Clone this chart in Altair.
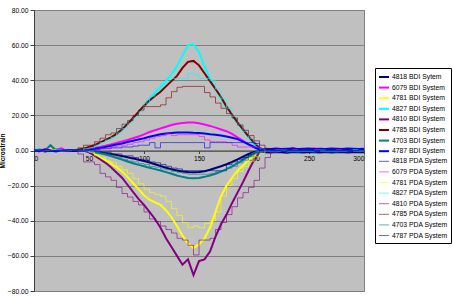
import altair as alt
import pandas as pd

X = [0, 5, 10, 15, 20, 25, 30, 35, 40, 45,
     50, 55, 60, 65, 70, 75, 80, 85, 90, 95,
     100, 105, 110, 115, 120, 125, 130, 135, 140, 145,
     150, 155, 160, 165, 170, 175, 180, 185, 190, 195,
     200, 205, 210, 215, 220, 225, 230, 235, 240, 245,
     250, 255, 260, 265, 270, 275, 280, 285, 290, 295,
     300]

s4818_bdi = [0, 0.3, -0.5, 0, 0.4, 0, -0.3, 0.2, 0, 0,
             -0.3, -0.6, -1, -1.5, -2, -2.6, -3.2, -3.8, -4.5, -5.3,
             -6, -6.8, -7.8, -8.8, -9.8, -10.7, -11.4, -12, -12.3, -12.4,
             -12.2, -11.8, -11, -10, -9, -7.8, -6.5, -5, -3.5, -2,
             -0.8, -0.5, -1, -1.2, -0.8, -1, -1.3, -0.9, -1, -1.2,
             -0.8, -1, -1.1, -0.9, -1.2, -1, -0.8, -1.1, -1, -0.9,
             -1]
s6079_bdi = [0, -0.5, 0.8, -0.3, 0.5, 1.2, -0.4, 0.3, 0.3, 0.5,
             1, 1.5, 2, 2.7, 3.5, 4.3, 5.2, 6, 7, 8,
             9.2, 10.5, 11.5, 12.5, 13.5, 14.5, 15.2, 15.7, 16, 15.9,
             15.5, 14.8, 14, 13, 12, 11, 9.5, 7.5, 5.5, 3.5,
             2, 0.5, 0.3, -0.4, 0.8, 0.2, -0.5, 1.5, 0.3, -0.3,
             0.6, 1.2, -0.4, 0.5, 0.9, -0.3, 1, 0.4, -0.2, 0.7,
             0.3]
s4781_bdi = [0, 0.3, -0.3, 0.5, 0, -0.4, 0.3, 0, -0.2, 0,
             -0.5, -2, -4, -5.5, -7.5, -9.5, -12, -15, -18.5, -22,
             -25.5, -28, -29.5, -31, -34, -38, -43, -48.5, -53, -55.5,
             -53.5, -50, -44, -35, -26, -20, -15.5, -11.5, -8.5, -5.5,
             -3, -0.5, 0.5, 0.3, 0.8, 0.4, 0.6, 0.2, 0.5, 0.7,
             0.3, 0.6, 0.4, 0.8, 0.5, 0.3, 0.6, 0.4, 0.5, 0.3,
             0.4]
s4827_bdi = [0, 0.5, 0, -0.5, 0.3, 0, 0.5, 0, 0.5, 1,
             2, 3, 4.5, 6, 7.5, 10, 12.5, 15.5, 18.5, 22,
             25.5, 29.5, 33, 36, 39.5, 43.5, 48, 54, 60, 60.5,
             56, 48, 41, 35, 29.5, 24.5, 20, 15.5, 11.5, 7.5,
             3.5, 0.5, 0, 0.5, -0.3, 0.8, 0.2, 0, 0.4, -0.2,
             0.3, 0.5, 0, 0.4, 0.2, 0, 0.3, 0.5, 0.1, 0.2,
             0]
s4810_bdi = [0, 0.2, -0.3, 0, 0.3, -0.2, 0, 0.2, 0, 0,
             -1, -3, -5, -7, -9.5, -12.5, -15.5, -19.5, -23.5, -27.5,
             -31, -35, -39, -44, -50, -55, -60, -65, -62, -71,
             -63, -62, -57.5, -49, -42, -36.5, -30, -24, -18, -11.5,
             -5.5, -1, 0, 0.3, -0.2, 0.4, 0, 0.3, -0.2, 0.2,
             0, 0.3, 0, -0.2, 0.3, 0, 0.2, -0.2, 0, 0.3,
             0]
s4785_bdi = [0, 0, 0.3, 0, -0.2, 0, 0.3, 0, 0.5, 1,
             2, 3, 4.5, 6, 7.5, 9.5, 12, 15, 18.5, 22,
             25.5, 28.5, 31, 33.5, 36.5, 39.5, 42.5, 47, 50.5, 51,
             48.5, 44, 39.5, 35, 30.5, 25, 20.5, 16, 12, 8,
             4.5, 1.5, 0, 0.3, 0, -0.2, 0.2, 0, 0.3, 0,
             0.2, 0, -0.2, 0.3, 0, 0.2, 0, 0.3, 0, 0.2,
             0]
s4703_bdi = [0, 0.5, 0, 3, 0, -0.3, 0.2, 0, 0, 0,
             -0.5, -1, -1.6, -2.3, -3.2, -4.2, -5.2, -6.3, -7.3, -8.2,
             -9, -9.8, -10.6, -11.4, -12.3, -13.2, -14.2, -15, -15.6, -15.8,
             -15.6, -15, -14.2, -13.2, -12, -10.6, -9, -7.2, -5.3, -3.3,
             -1.5, -0.3, 0, -0.3, -0.5, -0.2, -0.4, -0.3, -0.5, -0.2,
             -0.3, -0.5, -0.2, -0.4, -0.3, -0.5, -0.2, -0.4, -0.3, -0.2,
             -0.3]
s4787_bdi = [0, -0.3, 0.5, 0, -0.5, 0.3, 0, -0.3, 0, 0,
             0.5, 1, 1.5, 2, 2.7, 3.4, 4, 4.8, 5.5, 6.3,
             7, 7.8, 8.5, 9.2, 9.7, 10, 10.2, 10.3, 10.3, 10.1,
             10, 9.7, 9.3, 9, 8.5, 8, 7.3, 6.5, 5, 3.5,
             2, 0.5, 1, 0.8, 1.2, 0.9, 1, 1.1, 0.8, 1,
             1.2, 0.9, 1, 0.8, 1.1, 1, 0.9, 1.2, 1, 0.8,
             1]

s4818_pda = [0, 0, -0.5, 0, 0.5, 0, 0, -0.5, 0, 0,
             0, -0.5, -1, -1, -2, -2, -3, -3, -4, -5,
             -5.5, -6.5, -7, -8, -9, -10, -10.5, -11.5, -11.5, -11.5,
             -11.5, -11.5, -11.5, -11.5, -11.5, -8, -6.5, -5, -4, -2.5,
             -1.5, 0, 0, 0, 0, -0.5, 0, 0, 0, 0,
             0, -0.5, 0, 0, 0, 0, 0, -0.5, 0, 0,
             0]
s6079_pda = [0, 0, 0.5, 0, 0, 0.5, 0, 0, 0, 0,
             0, 0.5, 1, 1.5, 2, 2.5, 3, 3.5, 4.5, 5,
             6, 7, 8, 8.5, 9.5, 8.5, 9, 9, 9, 9,
             8, 6, 5, 5, 5, 4.5, 3, 2, 2, 2,
             2, 1, 0, 0, 0.5, 0, 0, 0.5, 0, 0,
             0, 0.5, 0, 0, 0, 0.5, 0, 0, 0, 0,
             0]
s4781_pda = [0, 0, 0, 0.5, 0, 0, 0, 0, 0, 0,
             -1, -3, -4, -6, -7, -9, -11, -13, -16, -19,
             -22, -24, -25, -26, -29, -33, -37, -41, -44, -43,
             -44, -41.5, -40, -35, -26, -20, -16, -12, -9, -6,
             -3.5, -1.5, 0, 0, 0, 0, 0, 0, 0, 0,
             0, 0, 0, 0, 0, 0, 0, 0, 0, 0,
             0]
s4827_pda = [0, 0, 0, 0, 0.5, 0, 0, 0, 0, 1,
             1.5, 3, 4.5, 6, 7.5, 10, 12.5, 15.5, 18.5, 22,
             27, 31, 35, 38, 41, 41, 41, 41, 44, 43,
             41, 41, 40, 35, 29.5, 24, 19.5, 15, 11, 7,
             3.5, 1, 0, 0, 0, 0.5, 0, 0, 0, 0,
             0, 0, 0.5, 0, 0, 0, 0, 0, 0.5, 0,
             0]
s4810_pda = [0, 0, 0, 0, 0, 0, 0, 0, -2, -6.5,
             -6.5, -8, -13, -15, -17, -21, -24.5, -26.5, -29, -31,
             -35, -39, -40.5, -43, -45, -47, -50, -51, -54, -59.5,
             -51, -51, -50, -45, -41, -36.5, -32, -27, -24, -21,
             -17, -10, -4, -1, 0, 0, 0, 0, 0, 0,
             0, 0, 0, 0, 0, 0, 0, 0, 0, 0,
             0]
s4785_pda = [0, 0, 0, 0, 0, 0, 0, 0, 1.5, 3,
             3, 5, 7, 9, 10, 12.5, 15, 17, 20, 23,
             25, 25, 25, 26, 30, 33.5, 36, 36.5, 36.5, 36.5,
             36.5, 33, 30.5, 27, 24, 21, 18.5, 14.5, 11.5, 8.5,
             5.5, 3, 1, 0, 0, 0, 0, 0, 0, 0,
             0, 0, 0, 0, 0, 0, 0, 0, 0, 0,
             0]
s4703_pda = [0, 0, 0, 0, 0, 0, 0, 0, 0, 0,
             0, -0.5, -1.5, -2, -3, -4, -5, -6, -6.5, -7.5,
             -8, -9, -9.5, -10.5, -11, -12, -12.5, -13, -13.5, -13.5,
             -13.5, -13.5, -13, -12, -11.5, -10, -9, -7, -5.5, -3.5,
             -2, -0.5, 0, 0, 0, 0, 0, 0, 0, 0,
             0, 0, 0, 0, 0, 0, 0, 0, 0, 0,
             0]
s4787_pda = [0, 0, 0.5, 0, 0, 0, 0.5, 0, 0, 0,
             0.5, 0.5, 1, 1, 1.5, 1.5, 2, 2, 2.5, 3,
             3, 4.5, 1.5, 4.5, 4.5, 4.5, 4.5, 4.5, 4.5, 4.5,
             4.5, 1.5, 4.5, 4.5, 4.5, 4.5, 4.5, 4.5, 4.5, 4.5,
             4, 1, 0, 0, 0, 0.5, 0, 0, 0, 0,
             0, 0, 0.5, 0, 0, 0, 0, 0, 0, 0.5,
             0]

bdi_names = ["4818 BDI Sytem", "6079 BDI System", "4781 BDI System", "4827 BDI System",
             "4810 BDI System", "4785 BDI System", "4703 BDI System", "4787 BDI System"]
pda_names = ["4818 PDA System", "6079 PDA System", "4781 PDA System", "4827 PDA System",
             "4810 PDA System", "4785 PDA System", "4703 PDA System", "4787 PDA System"]
bdi_values = [s4818_bdi, s6079_bdi, s4781_bdi, s4827_bdi, s4810_bdi, s4785_bdi, s4703_bdi, s4787_bdi]
pda_values = [s4818_pda, s6079_pda, s4781_pda, s4827_pda, s4810_pda, s4785_pda, s4703_pda, s4787_pda]
base_colors = ["#000080", "#FF00FF", "#FFFF00", "#00FFFF", "#800080", "#800000", "#008080", "#0000FF"]

names = bdi_names + pda_names
colors = base_colors + base_colors
widths = [2] * 8 + [1] * 8
opac = [1.0] * 8 + [0.6] * 8


def frame(nms, vals, kind):
    rows = []
    for n, v in zip(nms, vals):
        for x, y in zip(X, v):
            rows.append({"series": n, "x": x, "y": y, "kind": kind})
    return pd.DataFrame(rows)


df_bdi = frame(bdi_names, bdi_values, "BDI")
df_pda = frame(pda_names, pda_values, "PDA")

xsc = alt.Scale(domain=[0, 300], nice=False, zero=False)
ysc = alt.Scale(domain=[-80, 80], nice=False)

enc = dict(
    x=alt.X("x:Q", scale=xsc,
            axis=alt.Axis(values=[0, 50, 100, 150, 200, 250, 300], offset=-140.5, grid=False,
                          title=None, labelFontSize=6.7, labelFont="Liberation Sans",
                          tickSize=3, domainColor="#404040", tickColor="#404040",
                          labelColor="#000000", labelPadding=2)),
    y=alt.Y("y:Q", scale=ysc,
            axis=alt.Axis(values=[-80, -60, -40, -20, 0, 20, 40, 60, 80], format=".2f",
                          title="Microstrain", titleFontSize=6.5, titleFont="Liberation Sans",
                          titleFontWeight="bold", titlePadding=2, labelFontSize=6.7,
                          labelFont="Liberation Sans", tickSize=4, gridColor="#808080",
                          domainColor="#404040", tickColor="#404040", labelColor="#000000",
                          labelPadding=2)),
    color=alt.Color("series:N", scale=alt.Scale(domain=names, range=colors),
                    legend=alt.Legend(title=None, orient="none", legendX=341, legendY=58,
                                      symbolType="stroke", symbolSize=100, labelFontSize=6.8,
                                      labelFont="Liberation Sans", labelColor="#000000",
                                      strokeColor="#000000", fillColor="#FFFFFF", padding=3,
                                      rowPadding=0.6, labelOffset=2, symbolLimit=0)),
    opacity=alt.Opacity("series:N", scale=alt.Scale(type="ordinal", domain=names, range=opac)),
    strokeWidth=alt.StrokeWidth("series:N", scale=alt.Scale(type="ordinal", domain=names, range=widths)),
    detail="series:N",
)

bdi = alt.Chart(df_bdi).mark_line(interpolate="linear").encode(**enc)
pda = alt.Chart(df_pda).mark_line(interpolate="step-after").encode(**enc)

chart = alt.layer(bdi, pda).properties(
    width=330, height=281,
    autosize=alt.AutoSizeParams(type="none"),
    padding={"left": 34, "top": 10, "right": 89, "bottom": 8},
    background="#FFFFFF",
).configure_view(fill="#C0C0C0", stroke="#808080")

chart.save("out.html", embed_options={"renderer": "svg", "actions": False})
